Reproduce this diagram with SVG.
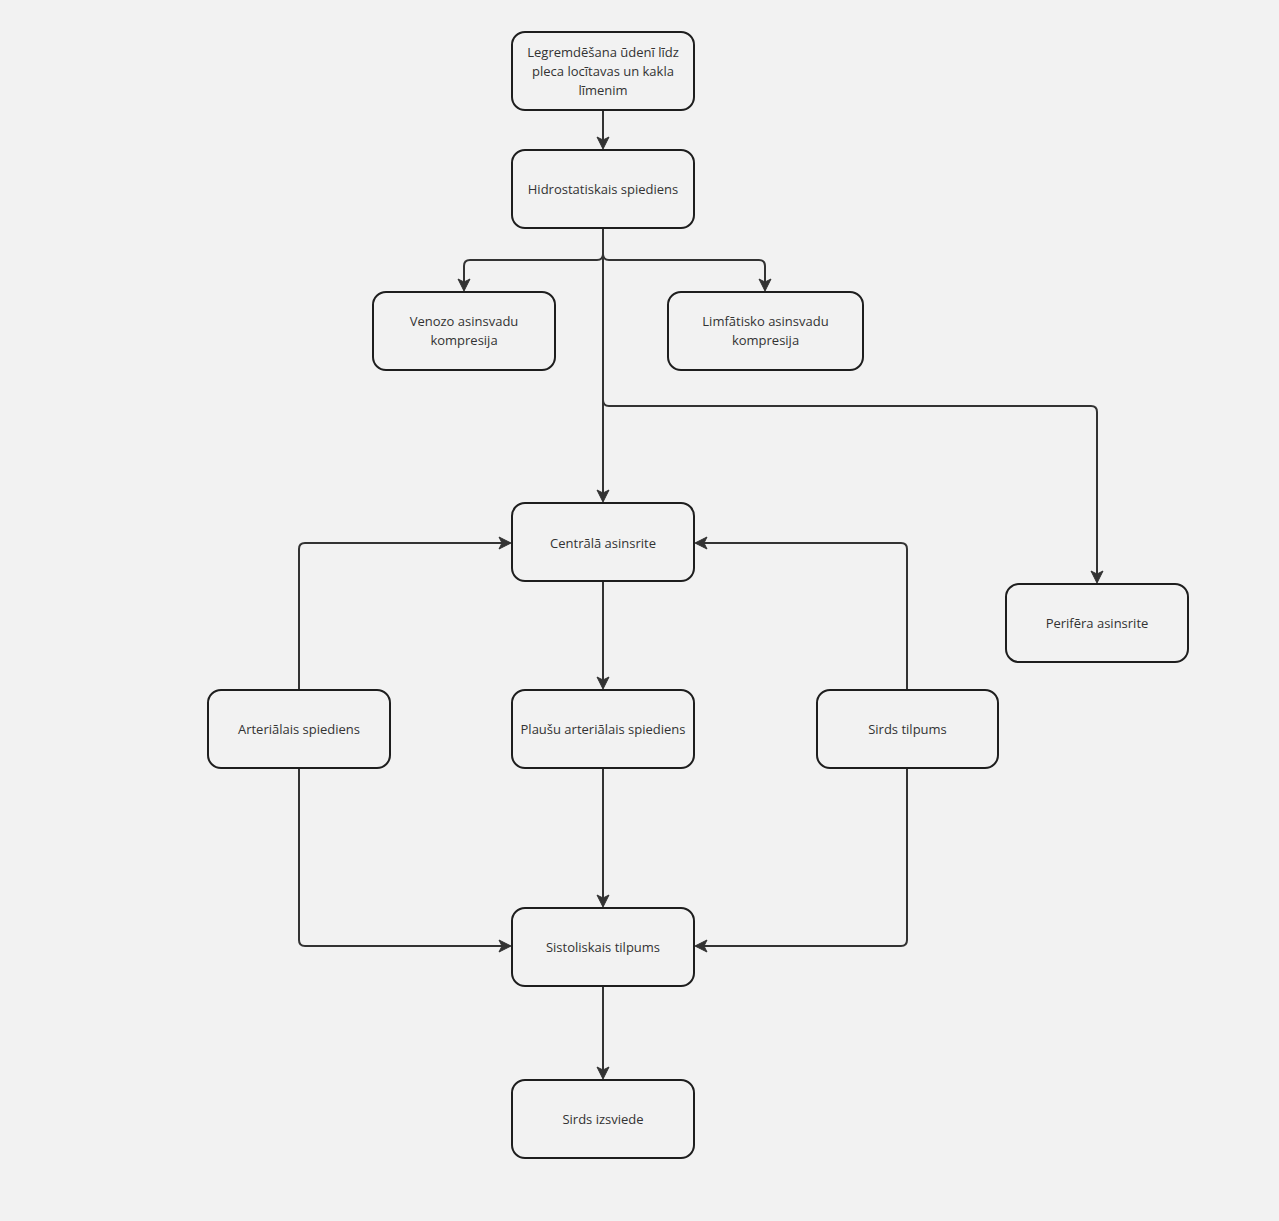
<svg xmlns="http://www.w3.org/2000/svg" width="1279" height="1221" viewBox="0 0 1279 1221">
<defs>
<style>
.n rect{fill:#f2f2f2;stroke:#1e1e1e;stroke-width:2}
.n text{font-family:"Open Sans","Noto Sans",sans-serif;font-size:13px;fill:#333;text-anchor:middle;dominant-baseline:central}
.c path{fill:none;stroke:#333;stroke-width:2}
</style>
<marker id="ah" markerWidth="14" markerHeight="14" viewBox="0 0 14 14" refX="12" refY="7" orient="auto" markerUnits="userSpaceOnUse">
<path d="M1,1 L13,7 L1,13 L4,7 Z" fill="#333" stroke="#333" stroke-width="1" stroke-linejoin="round"/>
</marker>
</defs>
<rect width="1279" height="1221" fill="#f2f2f2"/>
<g class="c">
<path d="M603,110 V148" marker-end="url(#ah)"/>
<path d="M603,228 V254 Q603,260 597,260 H470 Q464,260 464,266 V290" marker-end="url(#ah)"/>
<path d="M603,228 V254 Q603,260 609,260 H759 Q765,260 765,266 V290" marker-end="url(#ah)"/>
<path d="M603,228 V501" marker-end="url(#ah)"/>
<path d="M603,228 V400 Q603,406 609,406 H1091 Q1097,406 1097,412 V582" marker-end="url(#ah)"/>
<path d="M603,581 V688" marker-end="url(#ah)"/>
<path d="M299,690 V549 Q299,543 305,543 H510" marker-end="url(#ah)"/>
<path d="M907,690 V549 Q907,543 901,543 H696" marker-end="url(#ah)"/>
<path d="M603,768 V906" marker-end="url(#ah)"/>
<path d="M299,768 V940 Q299,946 305,946 H510" marker-end="url(#ah)"/>
<path d="M907,768 V940 Q907,946 901,946 H696" marker-end="url(#ah)"/>
<path d="M603,986 V1078" marker-end="url(#ah)"/>
</g>
<g id="n1" class="n"><rect x="512" y="32" width="182" height="78" rx="13"/><text x="603" y="52">Legremdēšana ūdenī līdz</text><text x="603" y="71">pleca locītavas un kakla</text><text x="603" y="90">līmenim</text></g>
<g id="n2" class="n"><rect x="512" y="150" width="182" height="78" rx="13"/><text x="603" y="189">Hidrostatiskais spiediens</text></g>
<g id="n3" class="n"><rect x="373" y="292" width="182" height="78" rx="13"/><text x="464" y="321">Venozo asinsvadu</text><text x="464" y="340">kompresija</text></g>
<g id="n4" class="n"><rect x="668" y="292" width="195" height="78" rx="13"/><text x="765.5" y="321">Limfātisko asinsvadu</text><text x="765.5" y="340">kompresija</text></g>
<g id="n5" class="n"><rect x="512" y="503" width="182" height="78" rx="13"/><text x="603" y="543">Centrālā asinsrite</text></g>
<g id="n6" class="n"><rect x="1006" y="584" width="182" height="78" rx="13"/><text x="1097" y="623">Perifēra asinsrite</text></g>
<g id="n7" class="n"><rect x="208" y="690" width="182" height="78" rx="13"/><text x="299" y="729">Arteriālais spiediens</text></g>
<g id="n8" class="n"><rect x="512" y="690" width="182" height="78" rx="13"/><text x="603" y="729">Plaušu arteriālais spiediens</text></g>
<g id="n9" class="n"><rect x="817" y="690" width="181" height="78" rx="13"/><text x="907.5" y="729">Sirds tilpums</text></g>
<g id="n10" class="n"><rect x="512" y="908" width="182" height="78" rx="13"/><text x="603" y="947">Sistoliskais tilpums</text></g>
<g id="n11" class="n"><rect x="512" y="1080" width="182" height="78" rx="13"/><text x="603" y="1119">Sirds izsviede</text></g>
</svg>
